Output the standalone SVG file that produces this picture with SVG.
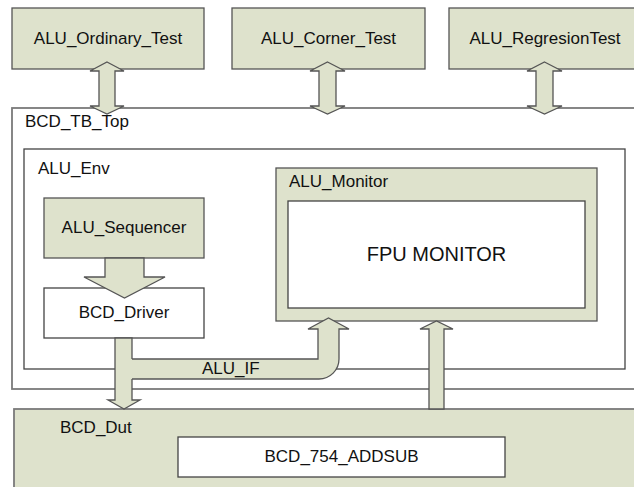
<svg xmlns="http://www.w3.org/2000/svg" width="634" height="487" viewBox="0 0 634 487">
  <style>
    .lbl { font-family: "Liberation Sans", Arial, sans-serif; font-size: 17px; fill: #111; }
    .mid { text-anchor: middle; }
    .big { font-size: 20px; }
    .sage { fill: #dee2cc; stroke: #555; stroke-width: 1.3; }
    .white { fill: #fff; stroke: #444; stroke-width: 1.3; }
    .frame { fill: #fff; stroke: #7a7a7a; stroke-width: 1.8; }
    .arrow { fill: #dee2cc; stroke: #555; stroke-width: 1.3; stroke-linejoin: miter; }
    .fillonly { fill: #dee2cc; stroke: none; }
    .edge { fill: none; stroke: #555; stroke-width: 1.3; }
  </style>

  <rect width="634" height="487" fill="#fff"/>

  <!-- testbench top frame -->
  <g id="bcd_tb_top">
    <rect class="frame" x="12" y="108" width="630" height="281"/>
    <text class="lbl" x="25" y="127">BCD_TB_Top</text>
  </g>

  <!-- design under test -->
  <g id="bcd_dut">
    <rect class="sage" style="stroke:#7a7a7a;stroke-width:1.8" x="14" y="409" width="630" height="90"/>
    <text class="lbl" x="60" y="433">BCD_Dut</text>
  </g>
  <g id="bcd_754_addsub">
    <rect class="white" x="178" y="437" width="327" height="40"/>
    <text class="lbl mid" x="341.5" y="462">BCD_754_ADDSUB</text>
  </g>

  <!-- environment -->
  <g id="alu_env">
    <rect class="white" x="24" y="149" width="601" height="220"/>
    <text class="lbl" x="38" y="174">ALU_Env</text>
  </g>

  <g id="alu_sequencer">
    <rect class="sage" x="44" y="198" width="160" height="60"/>
    <text class="lbl mid" x="124" y="233">ALU_Sequencer</text>
  </g>

  <g id="bcd_driver">
    <rect class="white" x="44" y="288" width="160" height="50"/>
    <text class="lbl mid" x="124" y="318">BCD_Driver</text>
  </g>

  <g id="alu_monitor">
    <rect class="sage" x="276" y="168" width="321" height="153"/>
    <text class="lbl" x="289" y="187">ALU_Monitor</text>
  </g>
  <g id="fpu_monitor">
    <rect class="white" x="288" y="201" width="297" height="107"/>
    <text class="lbl mid big" x="436.5" y="261">FPU MONITOR</text>
  </g>

  <!-- tests -->
  <g id="alu_ordinary_test">
    <rect class="sage" x="12" y="8" width="192" height="61"/>
    <text class="lbl mid" x="108" y="44">ALU_Ordinary_Test</text>
  </g>
  <g id="alu_corner_test">
    <rect class="sage" x="232" y="8" width="193" height="61"/>
    <text class="lbl mid" x="328.5" y="44">ALU_Corner_Test</text>
  </g>
  <g id="alu_regresiontest">
    <rect class="sage" x="449" y="8" width="192" height="61"/>
    <text class="lbl mid" x="545" y="44">ALU_RegresionTest</text>
  </g>

  <!-- connectors -->
  <g id="connectors">
    <!-- test <-> testbench double arrows -->
    <path class="arrow" d="M107,62 L124,71 L115,71 L115,106 L124,106 L107,114 L90,106 L99,106 L99,71 L90,71 Z"/>
    <path class="arrow" d="M327.5,62 L345,71 L336,71 L336,106 L345,106 L327.5,114 L310,106 L319,106 L319,71 L310,71 Z"/>
    <path class="arrow" d="M544.5,62 L562,71 L553,71 L553,106 L562,106 L544.5,114 L527,106 L536,106 L536,71 L527,71 Z"/>

    <!-- sequencer -> driver -->
    <path class="arrow" d="M105,258 L144,258 L144,277 L165,277 L124.5,298 L84,277 L105,277 Z"/>

    <!-- driver -> dut -->
    <path class="arrow" d="M115,338 L132,338 L132,400 L140,400 L124,409 L108,400 L115,400 Z"/>

    <!-- ALU_IF: driver side -> monitor -->
    <path class="fillonly" d="M131,359 L318,359 L318,329 L308,329 L328.5,318 L349,329 L339,329 L339,359 A20,20 0 0 1 319,379 L131,379 Z"/>
    <path class="edge" d="M132,359 L318,359 L318,329 L308,329 L328.5,318 L349,329 L339,329 L339,359 A20,20 0 0 1 319,379 L132,379"/>
    <text class="lbl" x="202" y="374">ALU_IF</text>

    <!-- dut -> monitor -->
    <path class="arrow" d="M429,409 L429,329 L420,329 L436.5,321 L453,329 L444,329 L444,409 Z"/>
  </g>
</svg>
